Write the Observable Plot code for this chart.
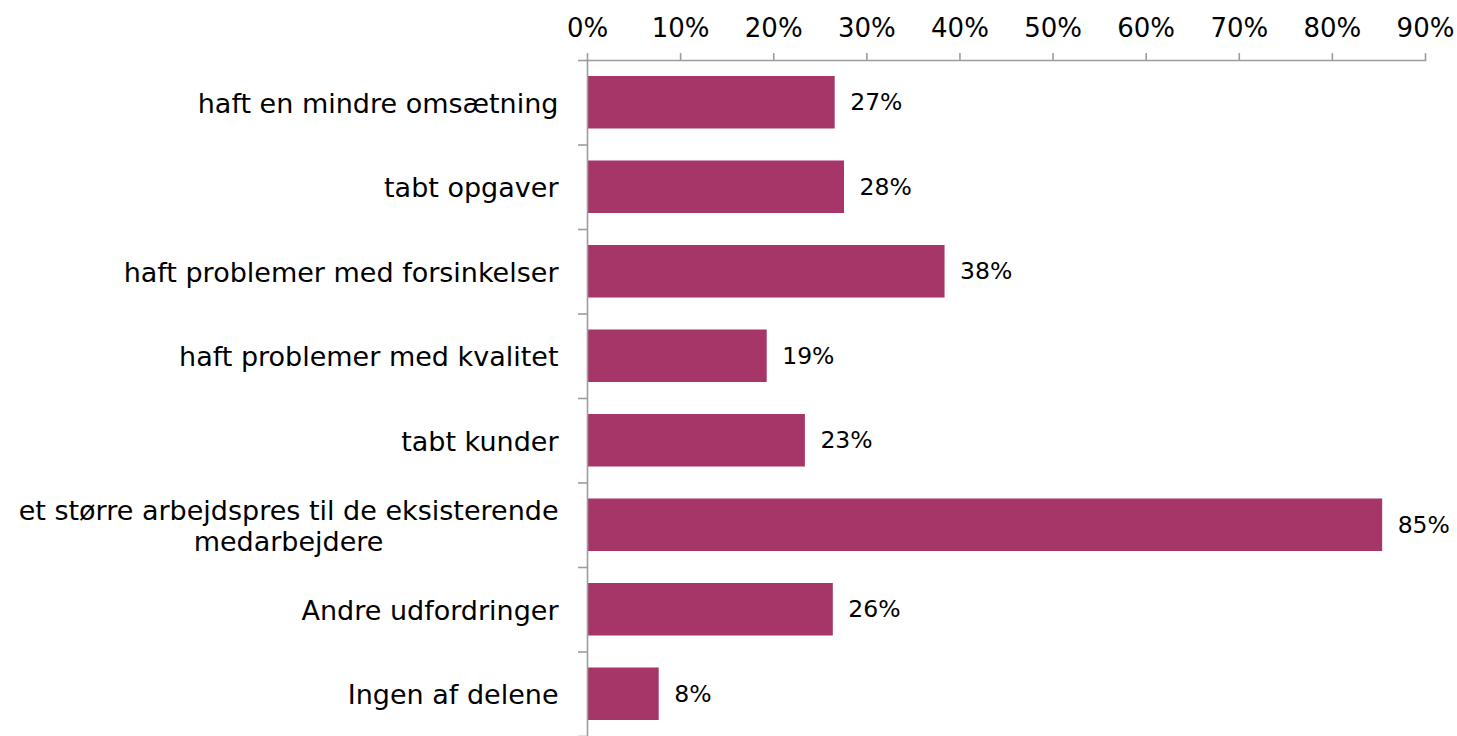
<!DOCTYPE html>
<html>
<head>
<meta charset="utf-8">
<script src="https://cdn.jsdelivr.net/npm/d3@7"></script>
<script src="https://cdn.jsdelivr.net/npm/@observablehq/plot@0.6"></script>
<style>
  html, body { margin: 0; padding: 0; background: #fff; }
  svg { display: block; }
</style>
</head>
<body>
<div id="chart"></div>
<script>
const categories = [
  "haft en mindre omsætning",
  "tabt opgaver",
  "haft problemer med forsinkelser",
  "haft problemer med kvalitet",
  "tabt kunder",
  "et større arbejdspres til de eksisterende\nmedarbejdere",
  "Andre udfordringer",
  "Ingen af delene"
];
const values = [26.6, 27.6, 38.4, 19.3, 23.4, 85.4, 26.4, 7.7];
const valueLabels = ["27%", "28%", "38%", "19%", "23%", "85%", "26%", "8%"];
const xTicks = [0, 10, 20, 30, 40, 50, 60, 70, 80, 90];

const rows = categories.map((c, i) => ({cat: c, i, value: values[i], label: valueLabels[i]}));

const FONT = "DejaVu Sans";
const gray = "#9d9d9d";

const plot = Plot.plot({
  width: 1457,
  height: 736,
  marginLeft: 587,
  marginRight: 32,
  marginTop: 60,
  marginBottom: 0,
  style: {fontFamily: FONT, color: "#000", background: "#fff", overflow: "visible"},
  x: {domain: [0, 90]},
  y: {domain: [0, categories.length], reverse: true},
  marks: [
    Plot.rectX(rows, {x1: 0, x2: "value", y1: "i", y2: d => d.i + 1, insetTop: 16, insetBottom: 16, fill: "#a63667"}),
    Plot.text(rows, {x: "value", y: d => d.i + 0.5, text: "label", dx: 15, textAnchor: "start", fontSize: 23.5, fill: "#000"}),
    Plot.frame({anchor: "top", stroke: gray, strokeWidth: 1.6}),
    Plot.frame({anchor: "left", stroke: gray, strokeWidth: 1.6}),
    Plot.axisX({anchor: "top", ticks: xTicks, tickFormat: d => d + "%", tickSize: 8, tickPadding: 16, fontSize: 26, stroke: gray, strokeWidth: 1.6, fill: "#000", label: null}),
    Plot.axisY({anchor: "left", ticks: d3.range(0, categories.length + 1), tickSize: 9, tickFormat: () => "", stroke: gray, strokeWidth: 1.6, label: null}),
    Plot.axisY({anchor: "left", ticks: d3.range(categories.length).map(i => i + 0.5), tickSize: 0, tickPadding: 29, tickFormat: v => categories[Math.floor(v)], fontSize: 27, lineHeight: 1.16, fill: "#000", label: null, textAnchor: "end"})
  ]
});

document.getElementById("chart").appendChild(plot);

// center-align the lines of the multi-line category label within its right-aligned block
plot.querySelectorAll("text").forEach(t => {
  if (t.querySelectorAll("tspan").length > 1) {
    const w = t.getBBox().width;
    t.setAttribute("text-anchor", "middle");
    const tr = t.getAttribute("transform") || "";
    t.setAttribute("transform", tr + ` translate(${-w / 2},0)`);
  }
});
</script>
</body>
</html>
